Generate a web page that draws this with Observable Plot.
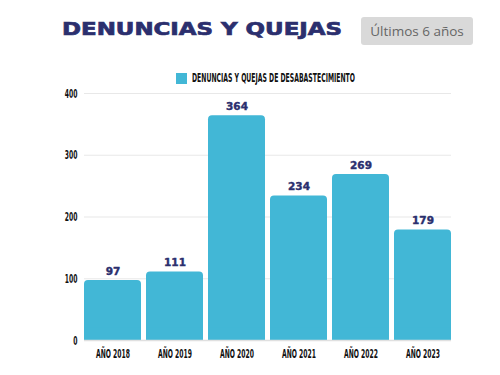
<!DOCTYPE html>
<html>
<head>
<meta charset="utf-8">
<script src="https://cdn.jsdelivr.net/npm/d3@7"></script>
<script src="https://cdn.jsdelivr.net/npm/@observablehq/plot@0.6"></script>
<style>
  html, body { margin: 0; padding: 0; background: #fff; }
  #wrap { position: relative; width: 500px; height: 375px; overflow: hidden; }
  #title { position: absolute; left: 62px; top: 20px; font-family: "DejaVu Sans", sans-serif; font-weight: bold; line-height: 18px;
    font-size: 17.5px; color: #2b2f6e; white-space: nowrap; letter-spacing: 0px; transform-origin: 0 0; -webkit-text-stroke: 0.7px #2b2f6e; }
  #badge { position: absolute; left: 361px; top: 17px; width: 112px; height: 28px; background: #d9d9d9; border-radius: 3px;
    font-family: "Open Sans", sans-serif; font-size: 13.5px; color: #666; display: flex; align-items: center; justify-content: center; }
  #legend { position: absolute; left: 176px; top: 73px; height: 11px; }
  #legend .sw { position: absolute; left: 0; top: 0; width: 11px; height: 11px; background: #42b7d6; }
  #legend span { position: absolute; left: 16px; top: -2px; font-family: "DejaVu Sans", sans-serif; font-weight: bold; font-size: 12px;
    color: #111; white-space: nowrap; transform-origin: 0 50%; line-height: 15px; }
  #chart { position: absolute; left: 0; top: 0; }
</style>
</head>
<body>
<div id="wrap">
  <div id="chart"></div>
  <div id="title">DENUNCIAS Y QUEJAS</div>
  <div id="badge">Últimos 6 años</div>
  <div id="legend"><div class="sw"></div><span id="legtext">DENUNCIAS Y QUEJAS DE DESABASTECIMIENTO</span></div>
</div>
<script>
const categories = ["AÑO 2018", "AÑO 2019", "AÑO 2020", "AÑO 2021", "AÑO 2022", "AÑO 2023"];
const values = [97, 111, 364, 234, 269, 179];
const yTicks = [0, 100, 200, 300, 400];

const data = categories.map((c, i) => ({cat: c, value: values[i]}));

const plot = Plot.plot({
  width: 500,
  height: 375,
  marginTop: 93,
  marginBottom: 35,
  marginLeft: 84,
  marginRight: 49,
  style: { fontFamily: "'DejaVu Sans', sans-serif", fontWeight: "bold", fontSize: "13px", color: "#111", background: "transparent" },
  x: { domain: categories, paddingInner: 0.085, paddingOuter: 0.0, label: null, tickSize: 0, tickPadding: 8 },
  y: { domain: [0, 400], ticks: yTicks, label: null, tickSize: 0, tickPadding: 7 },
  marks: [
    Plot.ruleY(yTicks.filter(d => d > 0), { stroke: "#e8e8e8", strokeWidth: 1.2 }),
    Plot.barY(data, { x: "cat", y: "value", fill: "#42b7d6", rx: 4 }),
    Plot.barY(data, { x: "cat", y1: 0, y2: d => Math.min(d.value, 20), fill: "#42b7d6" }),
    Plot.ruleY([0], { stroke: "#e0e0e0", strokeWidth: 1.5 }),
    Plot.text(data, { x: "cat", y: "value", text: d => String(d.value), dy: -9, fill: "#2b2f6e",
      stroke: "#2b2f6e", strokeWidth: 0.4,
      fontFamily: "'DejaVu Sans', sans-serif", fontWeight: "bold", fontSize: 10.5, letterSpacing: "1px" })
  ]
});
document.getElementById("chart").appendChild(plot);

// condense axis labels horizontally to mimic the narrow font
const svg = plot.tagName.toLowerCase() === "svg" ? plot : plot.querySelector("svg");
const axisTexts = Array.from(svg.querySelectorAll("g[aria-label$='tick label'] text"));
const sample = axisTexts.find(t => t.textContent === "AÑO 2018");
const sx = sample ? 34 / sample.getComputedTextLength() : 0.62;
axisTexts.forEach(t => {
  const tr = t.getAttribute("transform") || "";
  t.setAttribute("transform", tr + ` scale(${sx},1)`);
});

// legend text condensed to target width
const leg = document.getElementById("legtext");
leg.style.transform = `scaleX(${163 / leg.getBoundingClientRect().width})`;
// title width to target
const title = document.getElementById("title");
title.style.transform = `scaleX(${280 / title.getBoundingClientRect().width})`;
</script>
</body>
</html>
